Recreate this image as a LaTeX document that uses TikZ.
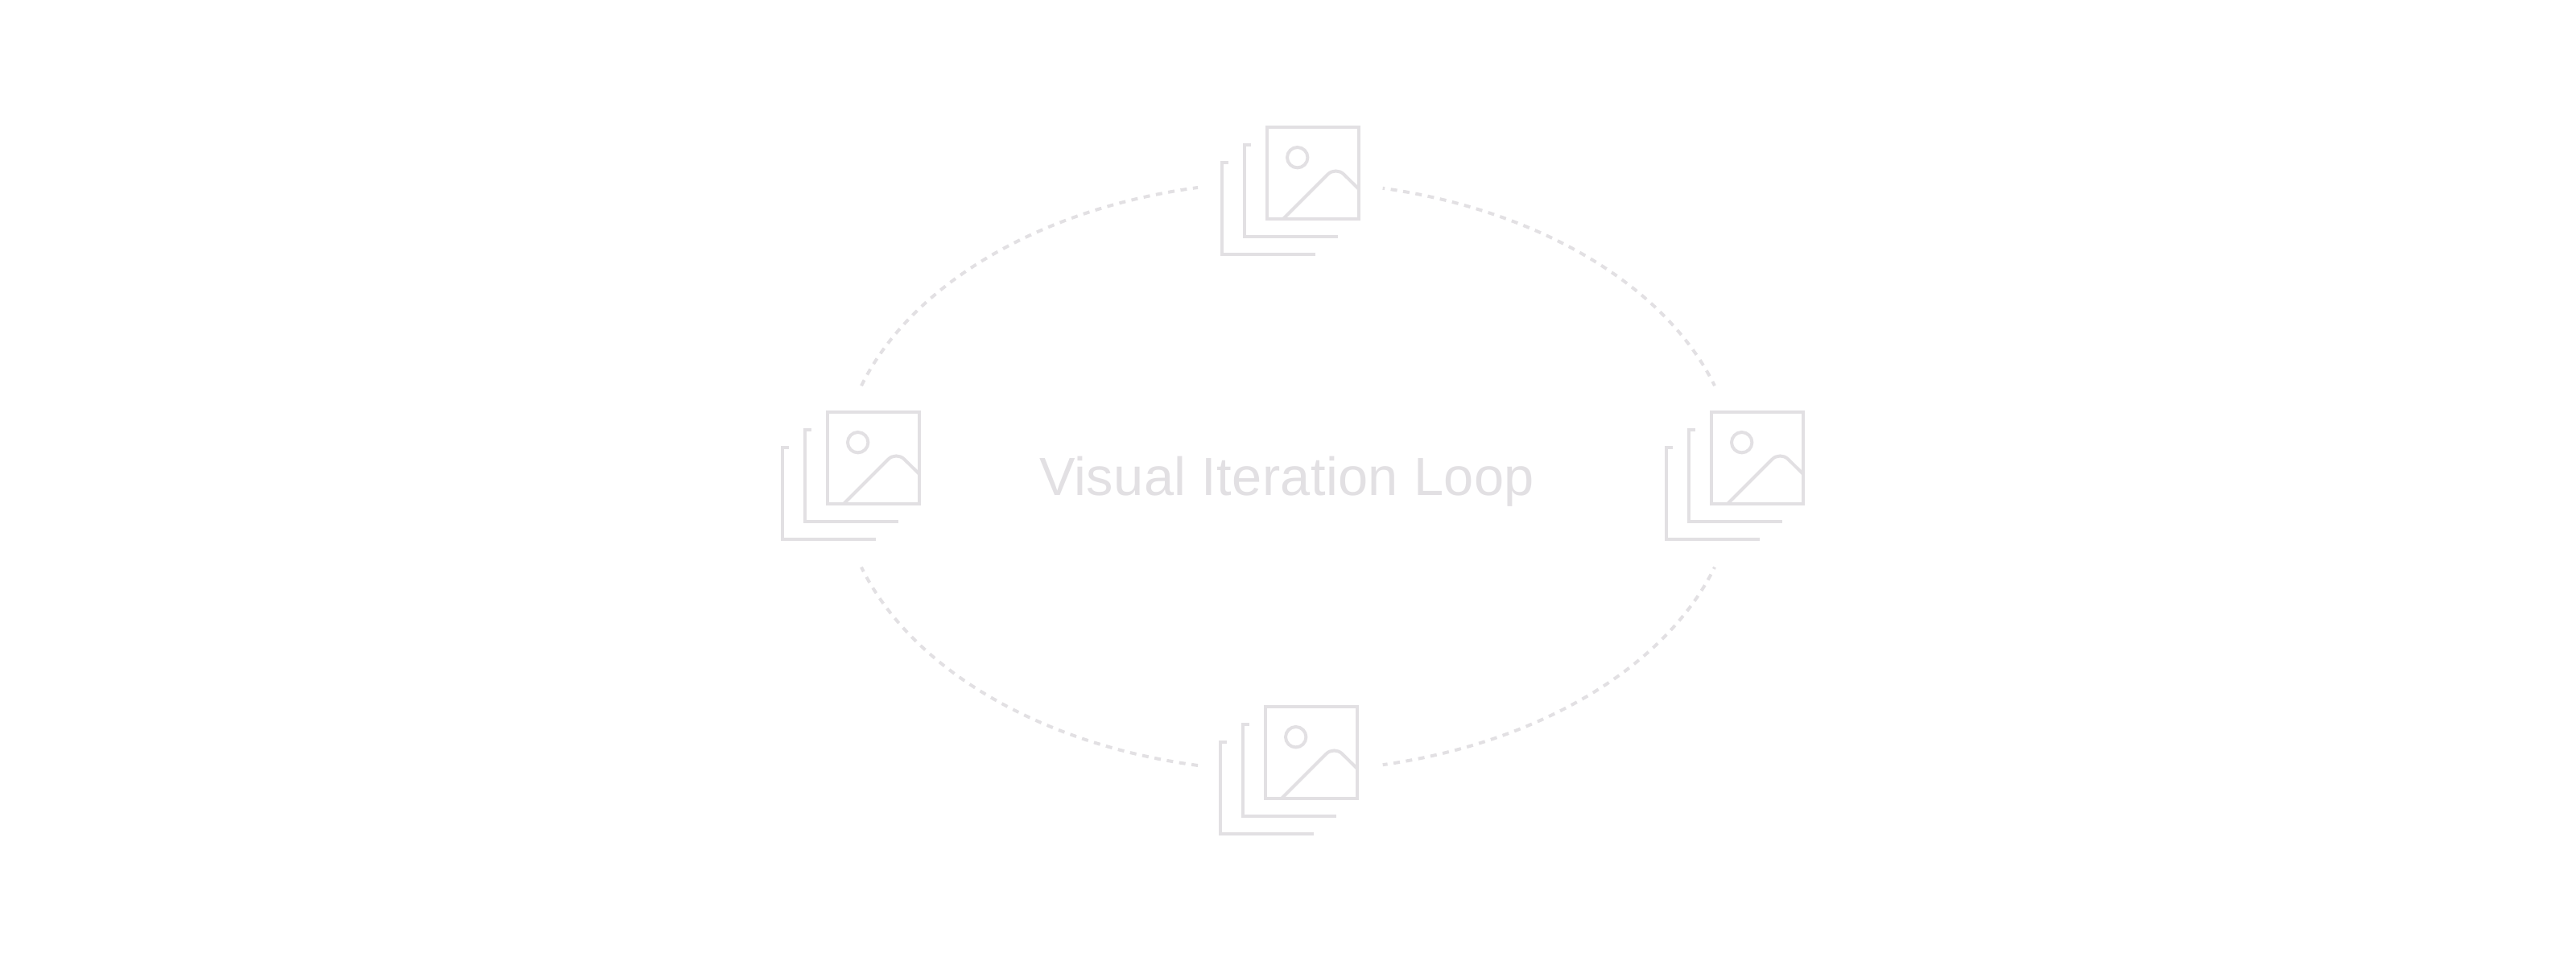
\documentclass[tikz,border=0pt]{standalone}
\usepackage{fontspec}
\setmainfont{Liberation Sans}
\newfontfamily\labelfont[LetterSpace=0.6]{Liberation Sans}
\definecolor{icongray}{HTML}{E2E0E3}
\tikzset{
  iconline/.style={draw=icongray,line width=0.04cm},
  loopline/.style={draw=icongray,line width=0.04cm,dash pattern=on 0.08cm off 0.0755cm},
  looplabel/.style={font=\labelfont\fontsize{19}{23}\selectfont,text=icongray,anchor=base,inner sep=0pt}
}
\begin{document}
\begin{tikzpicture}
\useasboundingbox (0,0) rectangle (32,11.84);
\coordinate (iconTop) at (15.74,10.26);
\coordinate (iconLeft) at (10.28,6.72);
\coordinate (iconRight) at (21.26,6.72);
\coordinate (iconBottom) at (15.72,3.06);
\coordinate (loopCenter) at (16,5.92);

% stacked picture icons
\foreach \icon in {iconTop,iconLeft,iconRight,iconBottom}{
\begin{scope}[shift={(\icon)}]
\draw[iconline] (0,0) rectangle (1.14,-1.14);
\draw[iconline] (0.377,-0.377) circle (0.127);
\draw[iconline,rounded corners=0.14cm] (0.20,-1.14) -- (0.853,-0.487) -- (1.14,-0.77);
\draw[iconline] (-0.20,-0.22) -- (-0.28,-0.22) -- (-0.28,-1.36) -- (0.88,-1.36);
\draw[iconline] (-0.48,-0.44) -- (-0.56,-0.44) -- (-0.56,-1.58) -- (0.60,-1.58);
\end{scope}
}

% dashed arcs of the loop
\foreach \from/\to/\phase in {162.1/101.6/0,77.8/17.9/0.055,-17.9/-77.8/0.055,-101.6/-162.1/0}{
\path (loopCenter) +(\from:5.57 and 3.665) coordinate (arcStart);
\draw[loopline,dash phase=\phase cm] (arcStart) arc[start angle=\from,end angle=\to,x radius=5.57,y radius=3.665];
}

\node[looplabel] (loopLabel) at (15.985,5.68) {Visual Iteration Loop};
\end{tikzpicture}
\end{document}
